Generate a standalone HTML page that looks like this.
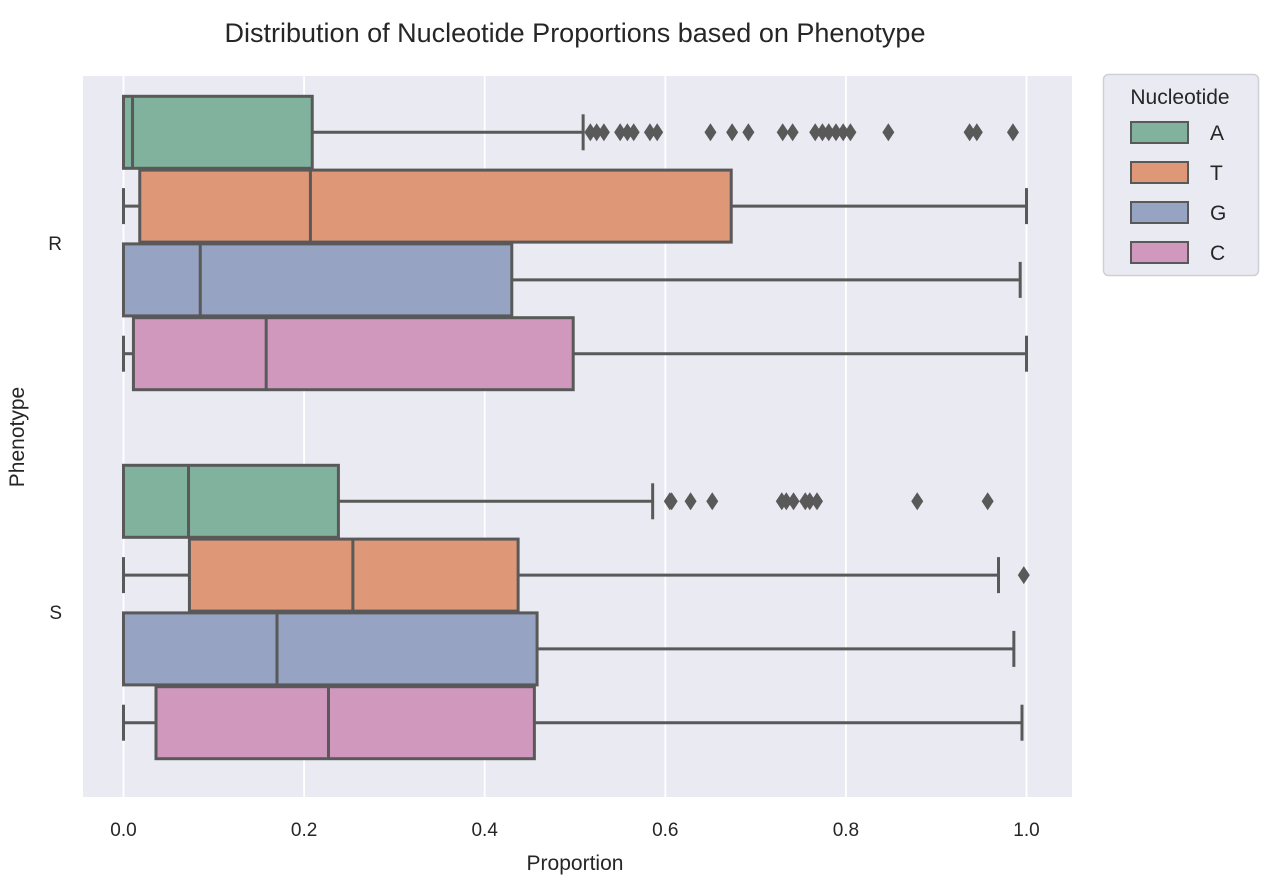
<!DOCTYPE html>
<html><head><meta charset="utf-8"><style>
html,body{margin:0;padding:0;background:#fff;}
svg{display:block;font-family:"Liberation Sans",sans-serif;}
</style></head><body>
<svg id="chart" width="1272" height="896">
<text x="575" y="42" text-anchor="middle" font-size="27" fill="#262626">Distribution of Nucleotide Proportions based on Phenotype</text>
<rect x="83" y="76" width="989" height="721" fill="#eaeaf2"/>
<g id="grid"></g><g id="boxes"></g><g id="ticks"></g>
<text x="575" y="870" text-anchor="middle" font-size="21" fill="#262626">Proportion</text>
<text transform="translate(24,437) rotate(-90)" text-anchor="middle" font-size="21" fill="#262626">Phenotype</text>
<g>
<rect x="1103.5" y="74.5" width="155" height="201" rx="5" fill="#eaeaf2" stroke="#cfcfd6" stroke-width="1.5"/>
<text x="1180" y="104" text-anchor="middle" font-size="21" fill="#262626">Nucleotide</text>
<g id="legend"></g>
</g>
</svg>
<script>
const categories = ["R","S"];
const nucleotides = ["A","T","G","C"];
const colors = ["#80b29d","#de9877","#97a3c3","#d198be"];
// [whiskerLow, q1, median, q3, whiskerHigh] per category per nucleotide
const statsR = [[0,0,0.01,0.209,0.509],[0,0.018,0.207,0.673,1.0],[0,0,0.085,0.43,0.993],[0,0.011,0.158,0.498,1.0]];
const statsS = [[0,0,0.072,0.238,0.586],[0,0.073,0.254,0.437,0.969],[0,0,0.17,0.458,0.986],[0,0.036,0.227,0.455,0.995]];
const outliersR = [[0.517,0.524,0.532,0.550,0.558,0.565,0.583,0.591,0.650,0.674,0.692,0.730,0.741,0.766,0.774,0.781,0.789,0.797,0.805,0.847,0.937,0.945,0.985],[],[],[]];
const outliersS = [[0.605,0.607,0.628,0.652,0.729,0.734,0.742,0.755,0.760,0.768,0.879,0.957],[0.997],[],[]];
const xTicks = [0,0.2,0.4,0.6,0.8,1.0];
const xTickLabels = ["0.0","0.2","0.4","0.6","0.8","1.0"];

const NS="http://www.w3.org/2000/svg";
const X0=123.5, XW=903;
const x = v => X0 + v*XW;
const catCenter = [243, 612];
const slot = 73.8, boxH = 72;
const yOf = (ci,ni) => catCenter[ci] + (ni-1.5)*slot;
function mk(tag,attrs,parent){const e=document.createElementNS(NS,tag);for(const k in attrs)e.setAttribute(k,attrs[k]);parent.appendChild(e);return e;}
const grid=document.getElementById('grid'), boxes=document.getElementById('boxes'), ticks=document.getElementById('ticks'), legend=document.getElementById('legend');
xTicks.forEach((t,i)=>{
  const l=mk('line',{x1:x(t),x2:x(t),y1:76,y2:797,stroke:'#fff','stroke-width':1.8},grid);
  
  
  const tx=mk('text',{x:x(t),y:836,'text-anchor':'middle','font-size':19,fill:'#262626'},ticks);
  tx.textContent=xTickLabels[i];
  
  
});
categories.forEach((c,ci)=>{
  const tx=mk('text',{x:62,y:catCenter[ci]+7,'text-anchor':'end','font-size':19,fill:'#262626'},ticks);
  tx.textContent=c;
  
  
});
const LC='#595959', LW=3;
[statsR,statsS].forEach((stats,ci)=>{
  const outs=[outliersR,outliersS][ci];
  stats.forEach((s,ni)=>{
    const yc=yOf(ci,ni);
    const g=mk('g',{},boxes);
    
    
    mk('line',{x1:x(s[0]),x2:x(s[1]),y1:yc,y2:yc,stroke:LC,'stroke-width':LW},g);
    mk('line',{x1:x(s[3]),x2:x(s[4]),y1:yc,y2:yc,stroke:LC,'stroke-width':LW},g);
    mk('line',{x1:x(s[0]),x2:x(s[0]),y1:yc-18,y2:yc+18,stroke:LC,'stroke-width':LW},g);
    mk('line',{x1:x(s[4]),x2:x(s[4]),y1:yc-18,y2:yc+18,stroke:LC,'stroke-width':LW},g);
    mk('rect',{x:x(s[1]),y:yc-boxH/2,width:Math.max(0,x(s[3])-x(s[1])),height:boxH,fill:colors[ni],stroke:LC,'stroke-width':LW},g);
    mk('line',{x1:x(s[2]),x2:x(s[2]),y1:yc-boxH/2,y2:yc+boxH/2,stroke:LC,'stroke-width':LW},g);
    outs[ni].forEach(o=>{
      const cx=x(o);
      const p=mk('polygon',{points:`${cx},${yc-9} ${cx+6},${yc} ${cx},${yc+9} ${cx-6},${yc}`,fill:LC},g);
      
      
    });
  });
});
nucleotides.forEach((n,ni)=>{
  const yy=132+ni*40;
  const r=mk('rect',{x:1131,y:yy-10,width:57,height:21,fill:colors[ni],stroke:LC,'stroke-width':2},legend);
  
  
  const t=mk('text',{x:1210,y:yy+8,'font-size':21,fill:'#262626'},legend);
  t.textContent=n;
  
  
});
</script>
</body></html>
